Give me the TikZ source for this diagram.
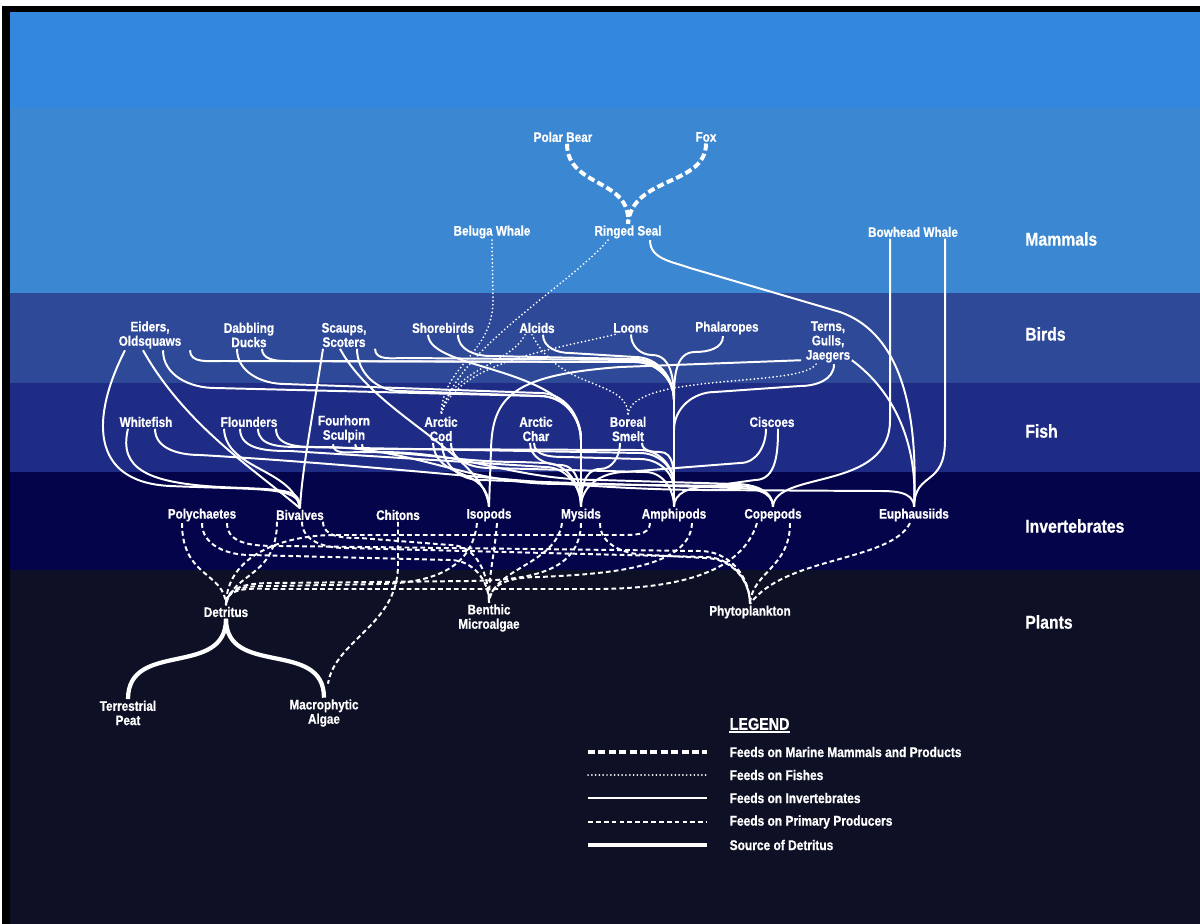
\documentclass[tikz,border=0pt]{standalone}
\usepackage{fontspec}
\setmainfont{Liberation Sans}[FakeStretch=0.85,BoldFeatures={FakeBold=0.7}]
\usetikzlibrary{calc}

\definecolor{skyband}{HTML}{3387DD}
\definecolor{mammalband}{HTML}{3C87D1}
\definecolor{birdband}{HTML}{2E4997}
\definecolor{fishband}{HTML}{1E2C86}
\definecolor{invband}{HTML}{03044A}
\definecolor{plantband}{HTML}{0E1125}

\begin{document}
\begin{tikzpicture}[x=0.025cm,y=-0.025cm,
  sp/.style={text=white,font=\bfseries\fontsize{9.8}{10.2}\selectfont,align=center,inner sep=1pt},
  band/.style={text=white,font=\bfseries\fontsize{13.2}{15}\selectfont,anchor=west,inner sep=0pt},
  mamline/.style={white,line width=2.8pt,dash pattern=on 5pt off 2.4pt},
  fishline/.style={white,line width=1.4pt,line cap=round,dash pattern=on 0pt off 2.7pt},
  invline/.style={white,line width=1.4pt},
  prodline/.style={white,line width=1.4pt,dash pattern=on 3.4pt off 2.2pt},
  detline/.style={white,line width=3pt}]

  % background bands
  \useasboundingbox (0,0) rectangle (1200,924);
  \fill[white] (0,0) rectangle (1200,924);
  \fill[black] (2,6) rectangle (1200,924);
  \fill[skyband] (10,12) rectangle (1200,108);
  \fill[mammalband] (10,108) rectangle (1200,293);
  \fill[birdband] (10,293) rectangle (1200,383);
  \fill[fishband] (10,383) rectangle (1200,472);
  \fill[invband] (10,472) rectangle (1200,570);
  \fill[plantband] (10,570) rectangle (1200,924);

  % mammals
  \node[sp] (polarbear) at (563,137) {Polar Bear};
  \node[sp] (fox) at (706,137) {Fox};
  \node[sp] (beluga) at (492,232) {Beluga Whale};
  \node[sp] (seal) at (628,232) {Ringed Seal};
  \node[sp] (bowhead) at (913,232) {Bowhead Whale};
  % birds
  \node[sp] (eiders) at (150,335) {Eiders,\\Oldsquaws};
  \node[sp] (dabbling) at (249,335) {Dabbling\\Ducks};
  \node[sp] (scaups) at (344,335) {Scaups,\\Scoters};
  \node[sp] (shorebirds) at (443,328) {Shorebirds};
  \node[sp] (alcids) at (537,328) {Alcids};
  \node[sp] (loons) at (631,328) {Loons};
  \node[sp] (phalaropes) at (727,328) {Phalaropes};
  \node[sp] (terns) at (828,342) {Terns,\\Gulls,\\Jaegers};
  % fish
  \node[sp] (whitefish) at (146,422) {Whitefish};
  \node[sp] (flounders) at (249,422) {Flounders};
  \node[sp] (fourhorn) at (344,429) {Fourhorn\\Sculpin};
  \node[sp] (arcticcod) at (441,429) {Arctic\\Cod};
  \node[sp] (arcticchar) at (536,429) {Arctic\\Char};
  \node[sp] (smelt) at (628,429) {Boreal\\Smelt};
  \node[sp] (ciscoes) at (772,422) {Ciscoes};
  % invertebrates
  \node[sp] (polychaetes) at (202,515) {Polychaetes};
  \node[sp] (bivalves) at (300,515) {Bivalves};
  \node[sp] (chitons) at (398,515) {Chitons};
  \node[sp] (isopods) at (489,515) {Isopods};
  \node[sp] (mysids) at (581,515) {Mysids};
  \node[sp] (amphipods) at (674,515) {Amphipods};
  \node[sp] (copepods) at (773,515) {Copepods};
  \node[sp] (euphausiids) at (914,515) {Euphausiids};
  % plants
  \node[sp] (detritus) at (226,612) {Detritus};
  \node[sp] (benthic) at (489,618) {Benthic\\Microalgae};
  \node[sp] (phyto) at (750,612) {Phytoplankton};
  \node[sp] (peat) at (128,713) {Terrestrial\\Peat};
  \node[sp] (macro) at (324,713) {Macrophytic\\Algae};

  % band labels
  \node[band] (mammals) at (1025,239) {Mammals};
  \node[band] (birds) at (1025,334) {Birds};
  \node[band] (fish) at (1025,431) {Fish};
  \node[band] (inverts) at (1025,526) {Invertebrates};
  \node[band] (plants) at (1025,622) {Plants};

  % marine mammals
  \draw[mamline] ($(polarbear.south)+(4,0)$) .. controls (567,188) and (632,178) .. (seal.north);
  \draw[mamline] (fox.south) .. controls (706,186) and (632,176) .. (seal.north);

  % fishes
  \draw[fishline] (beluga.south) -- (493,300) .. controls (493,355) and (442,365) .. (arcticcod.north);
  \draw[fishline] ($(seal.south)+(-20,0)$) .. controls (570,285) and (455,350) .. (arcticcod.north);
  \draw[fishline] ($(alcids.south)+(-12,0)$) .. controls (510,365) and (448,370) .. (arcticcod.north);
  \draw[fishline] ($(loons.south)+(-16,0)$) .. controls (560,348) and (455,362) .. (arcticcod.north);
  \draw[fishline] ($(alcids.south)+(-5,0)$) .. controls (560,392) and (628,378) .. (smelt.north);
  \draw[fishline] ($(terns.south)+(-12,0)$) .. controls (800,388) and (630,372) .. (smelt.north);

  % invertebrates, eaten by birds and mammals
  \draw[invline] ($(eiders.south)+(-25,0)$) .. controls (92,415) and (88,482) .. (170,486) .. controls (262,490) and (300,486) .. (bivalves.north);
  \draw[invline] ($(eiders.south)+(-7,0)$) .. controls (185,425) and (255,470) .. (bivalves.north);
  \draw[invline] ($(eiders.south)+(13,0)$) to[out=-90,in=180] (215,388) -- (540,396) to[out=0,in=90] (581,440) -- (mysids.north);
  \draw[invline] ($(eiders.south)+(40,0)$) to[out=-90,in=180] (222,361) -- (635,362) to[out=0,in=90] (674,400) -- (amphipods.north);
  \draw[invline] ($(dabbling.south)+(-12,0)$) to[out=-90,in=180] (285,384) -- (540,393) to[out=0,in=90] (581,440) -- (mysids.north);
  \draw[invline] ($(dabbling.south)+(13,0)$) to[out=-90,in=180] (285,361) -- (635,362) to[out=0,in=90] (674,400) -- (amphipods.north);
  \draw[invline] ($(scaups.south)+(-21,0)$) .. controls (312,420) and (302,470) .. (bivalves.north);
  \draw[invline] ($(scaups.south)+(-4,0)$) .. controls (375,415) and (485,455) .. (isopods.north);
  \draw[invline] ($(scaups.south)+(13,0)$) to[out=-90,in=180] (400,391) -- (540,396) to[out=0,in=90] (581,440) -- (mysids.north);
  \draw[invline] ($(scaups.south)+(31,0)$) to[out=-90,in=180] (405,358) -- (635,360) to[out=0,in=90] (674,400) -- (amphipods.north);
  \draw[invline] ($(shorebirds.south)+(-15,0)$) .. controls (430,372) and (578,365) .. (581,440) -- (mysids.north);
  \draw[invline] ($(shorebirds.south)+(15,0)$) to[out=-90,in=180] (490,356) -- (635,359) to[out=0,in=90] (674,400) -- (amphipods.north);
  \draw[invline] ($(alcids.south)+(6,0)$) to[out=-90,in=180] (570,353) -- (635,357) to[out=0,in=90] (674,400) -- (amphipods.north);
  \draw[invline] (loons.south) to[out=-90,in=180] (652,355) to[out=0,in=90] (674,400) -- (amphipods.north);
  \draw[invline] ($(phalaropes.south)+(-4,0)$) to[out=-90,in=0] (695,352) to[out=180,in=90] (674,400) -- (amphipods.north);
  \draw[invline] ($(terns.south west)+(-3,-4)$) -- (620,367) .. controls (515,375) and (492,395) .. (491,450) -- (isopods.north);
  \draw[invline] ($(terns.south)+(6,0)$) to[out=-90,in=0] (800,386) -- (715,392) to[out=180,in=90] (674,430) -- (amphipods.north);
  \draw[invline] ($(terns.south east)+(0,-4)$) .. controls (895,392) and (918,445) .. (euphausiids.north);
  \draw[invline] ($(seal.south)+(22,0)$) to[out=-90,in=160] (690,268) -- (840,312) .. controls (905,335) and (918,420) .. (euphausiids.north);
  \draw[invline] ($(bowhead.south)+(-23,0)$) -- (890,420) .. controls (890,492) and (775,470) .. (copepods.north);
  \draw[invline] ($(bowhead.south)+(32,0)$) -- (945,440) .. controls (945,488) and (915,470) .. (euphausiids.north);

  % invertebrates, eaten by fish
  \draw[invline] ($(whitefish.south)+(-18,0)$) .. controls (118,470) and (150,483) .. (220,487) .. controls (285,490) and (300,488) .. (bivalves.north);
  \draw[invline] ($(whitefish.south)+(9,0)$) to[out=-90,in=180] (200,455) .. controls (420,468) and (560,489) .. (700,490) -- (875,491) to[out=0,in=90] (euphausiids.north);
  \draw[invline] ($(flounders.south)+(-25,0)$) .. controls (226,470) and (292,468) .. (bivalves.north);
  \draw[invline] ($(flounders.south)+(-9,0)$) to[out=-90,in=180] (290,451) -- (545,467) to[out=0,in=90] (mysids.north);
  \draw[invline] ($(flounders.south)+(9,0)$) to[out=-90,in=180] (300,447) -- (640,453) to[out=0,in=90] (674,485) -- (amphipods.north);
  \draw[invline] ($(flounders.south)+(27,0)$) to[out=-90,in=180] (320,447) to[out=0,in=180] (560,484) -- (735,486) to[out=0,in=90] (copepods.north);
  \draw[invline] ($(fourhorn.south)+(-11,0)$) to[out=-90,in=180] (360,452) to[out=0,in=180] (520,462) -- (545,463) to[out=0,in=90] (mysids.north);
  \draw[invline] ($(fourhorn.south)+(11,0)$) to[out=-90,in=180] (370,449) -- (640,450) to[out=0,in=90] (674,485) -- (amphipods.north);
  \draw[invline] ($(fourhorn.south)+(18,0)$) to[out=-90,in=180] (380,452) to[out=0,in=180] (600,480) -- (735,484) to[out=0,in=90] (copepods.north);
  \draw[invline] ($(arcticcod.south)+(-8,0)$) .. controls (436,482) and (488,465) .. (isopods.north);
  \draw[invline] ($(arcticcod.south)+(1,0)$) to[out=-90,in=180] (480,480) -- (735,488) to[out=0,in=90] (copepods.north);
  \draw[invline] ($(arcticcod.south)+(10,0)$) to[out=-90,in=180] (490,468) -- (645,472) to[out=0,in=90] (amphipods.north);
  \draw[invline] ($(arcticchar.south)+(-6,0)$) to[out=-90,in=180] (560,465) to[out=0,in=90] (mysids.north);
  \draw[invline] ($(arcticchar.south)+(-2,0)$) to[out=-90,in=180] (565,457) -- (640,459) to[out=0,in=90] (674,490) -- (amphipods.north);
  \draw[invline] ($(smelt.south)+(-8,0)$) to[out=-90,in=0] (600,469) to[out=180,in=90] (mysids.north);
  \draw[invline] ($(smelt.south)+(14,0)$) to[out=-90,in=180] (660,452) to[out=0,in=90] (674,485) -- (amphipods.north);
  \draw[invline] ($(ciscoes.south)+(-6,0)$) to[out=-90,in=0] (740,463) -- (625,472) to[out=180,in=90] (mysids.north);
  \draw[invline] ($(ciscoes.south)+(6,0)$) to[out=-90,in=0] (755,480) -- (705,487) to[out=180,in=90] (amphipods.north);

  % primary producers
  \draw[prodline] ($(polychaetes.south)+(-20,0)$) .. controls (182,578) and (225,572) .. (detritus.north);
  \draw[prodline] (polychaetes.south) to[out=-90,in=180] (250,555) -- (450,560) to[out=0,in=90] (benthic.north);
  \draw[prodline] ($(polychaetes.south)+(25,0)$) to[out=-90,in=180] (280,546) -- (700,551) to[out=0,in=90] (phyto.north);
  \draw[prodline] ($(bivalves.south)+(-23,0)$) .. controls (277,578) and (232,572) .. (detritus.north);
  \draw[prodline] ($(bivalves.south)+(2,0)$) to[out=-90,in=180] (345,548) -- (705,557) to[out=0,in=90] (phyto.north);
  \draw[prodline] ($(bivalves.south)+(23,0)$) to[out=-90,in=180] (360,538) -- (450,545) to[out=0,in=90] (benthic.north);
  \draw[prodline] (chitons.south) -- (398,565) .. controls (398,625) and (335,640) .. ($(macro.north)+(4,-14)$);
  \draw[prodline] ($(isopods.south)+(-12,0)$) .. controls (472,570) and (430,583) .. (380,584) -- (275,586) to[out=180,in=90] (detritus.north);
  \draw[prodline] ($(isopods.south)+(8,0)$) .. controls (494,560) and (489,570) .. (benthic.north);
  \draw[prodline] ($(mysids.south)+(-19,0)$) .. controls (556,565) and (492,568) .. (benthic.north);
  \draw[prodline] (mysids.south) .. controls (580,572) and (530,580) .. (470,581) -- (275,583) to[out=180,in=90] (detritus.north);
  \draw[prodline] ($(mysids.south)+(19,0)$) to[out=-90,in=180] (650,555) -- (705,558) to[out=0,in=90] (phyto.north);
  \draw[prodline] ($(amphipods.south)+(-24,0)$) to[out=-90,in=0] (620,535) -- (335,535) to[out=180,in=90] (detritus.north);
  \draw[prodline] ($(amphipods.south)+(18,0)$) .. controls (690,570) and (600,574) .. (540,577) to[out=180,in=90] (benthic.north);
  \draw[prodline] ($(copepods.south)+(-16,0)$) .. controls (742,572) and (680,588) .. (600,589) -- (275,589) to[out=180,in=90] (detritus.north);
  \draw[prodline] ($(copepods.south)+(17,0)$) .. controls (790,568) and (752,572) .. (phyto.north);
  \draw[prodline] ($(euphausiids.south)+(-4,0)$) .. controls (890,562) and (785,556) .. (phyto.north);

  % detritus sources
  \draw[detline] (peat.north) to[out=90,in=-90,looseness=1.2] (detritus.south);
  \draw[detline] (macro.north) to[out=90,in=-90,looseness=1.2] (detritus.south);

  % legend
  \node[sp,anchor=west,font=\bfseries\fontsize{12}{14}\selectfont] (legendtitle) at (728,724) {LEGEND};
  \draw[white,line width=1.4pt] ($(legendtitle.south west)+(1,0)$) -- ($(legendtitle.south east)+(-1,0)$);
  \foreach \st/\yy/\txt [count=\i] in {mamline/752/Feeds on Marine Mammals and Products,
      fishline/775/Feeds on Fishes, invline/798/Feeds on Invertebrates,
      prodline/822/Feeds on Primary Producers, detline/845/Source of Detritus} {
    \coordinate (ka\i) at (588,\yy);
    \coordinate (kb\i) at (707,\yy);
    \node[sp,anchor=west,font=\bfseries\fontsize{10}{12}\selectfont] (key\i) at (728,\yy) {\txt};
    \draw[\st] (ka\i) -- (kb\i);
  }
\end{tikzpicture}
\end{document}
